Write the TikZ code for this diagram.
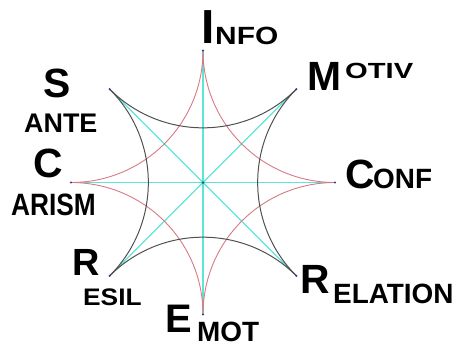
\documentclass[tikz,border=0pt]{standalone}
\usepackage{fontspec}
\setmainfont{Liberation Sans}
\usepackage{graphicx}
\usetikzlibrary{positioning}
\definecolor{arcred}{RGB}{214,122,132}
\definecolor{arcgray}{RGB}{80,80,80}
\definecolor{spoke}{RGB}{95,228,216}
\definecolor{dotblue}{RGB}{60,50,150}
\definecolor{hubgreen}{RGB}{20,120,90}
\tikzset{
  redarc/.style={draw=arcred, line width=0.9pt},
  grayarc/.style={draw=arcgray, line width=1pt},
  spokeline/.style={draw=spoke, line width=1.3pt},
  bigcap/.style={inner sep=0pt, anchor=base west, font=\fontsize{#1}{#1}\selectfont\bfseries},
  smallcaps/.style={inner sep=0pt, anchor=base west, font=\fontsize{#1}{#1}\selectfont\bfseries},
}
\newcommand{\rad}{132}
\newcommand{\wide}[2]{\scalebox{#1}[1]{#2}}

\begin{document}
\begin{tikzpicture}[x=1bp,y=1bp]
\useasboundingbox (0,0) rectangle (459,-347);
\coordinate (hub) at (203,-182.5);
\foreach \a in {0,45,...,315}
  \path (hub) ++(\a:\rad) coordinate (p\a);

% spokes
\foreach \a in {0,45,...,315}
  \draw[spokeline] (hub) -- (p\a);

% concave arcs
\foreach \a/\s in {0/90,90/180,180/270,270/360}
  \draw[redarc] (p\a) arc[start angle=\s, delta angle=90, radius=\rad];
\foreach \a/\s in {45/135,135/225,225/315,315/405}
  \draw[grayarc] (p\a) arc[start angle=\s, delta angle=90, radius=\rad];

\foreach \a in {0,45,...,315}
  \fill[dotblue] (p\a) circle (1.2);
\fill[hubgreen] (hub) circle (1.5);

% labels
\node[bigcap=48] (infoA) at (201,-43) {I};
\node[smallcaps=25] (infoB) at (215,-44) {\wide{1.2}{NFO}};
\node[bigcap=41] (motivA) at (307,-90) {M};
\node[smallcaps=22] (motivB) at (345,-78) {\wide{1.33}{OTIV}};
\node[bigcap=41] (santeA) at (43,-97) {S};
\node[smallcaps=27] (santeB) at (24,-132) {ANTE};
\node[bigcap=41] (carismA) at (33,-177) {C};
\node[smallcaps=31] (carismB) at (11,-215) {\wide{0.85}{ARISM}};
\node[bigcap=41] (confA) at (345,-188) {C};
\node[smallcaps=28] (confB) at (373,-188) {ONF};
\node[bigcap=41] (relA) at (300,-293) {R};
\node[smallcaps=28] (relB) at (333,-303) {ELATION};
\node[bigcap=40] (emotA) at (165,-332) {E};
\node[smallcaps=28] (emotB) at (197,-341) {MOT};
\node[bigcap=38] (resilA) at (72,-275) {R};
\node[smallcaps=24] (resilB) at (83,-305) {\wide{1.1}{ESIL}};

\end{tikzpicture}
\end{document}
